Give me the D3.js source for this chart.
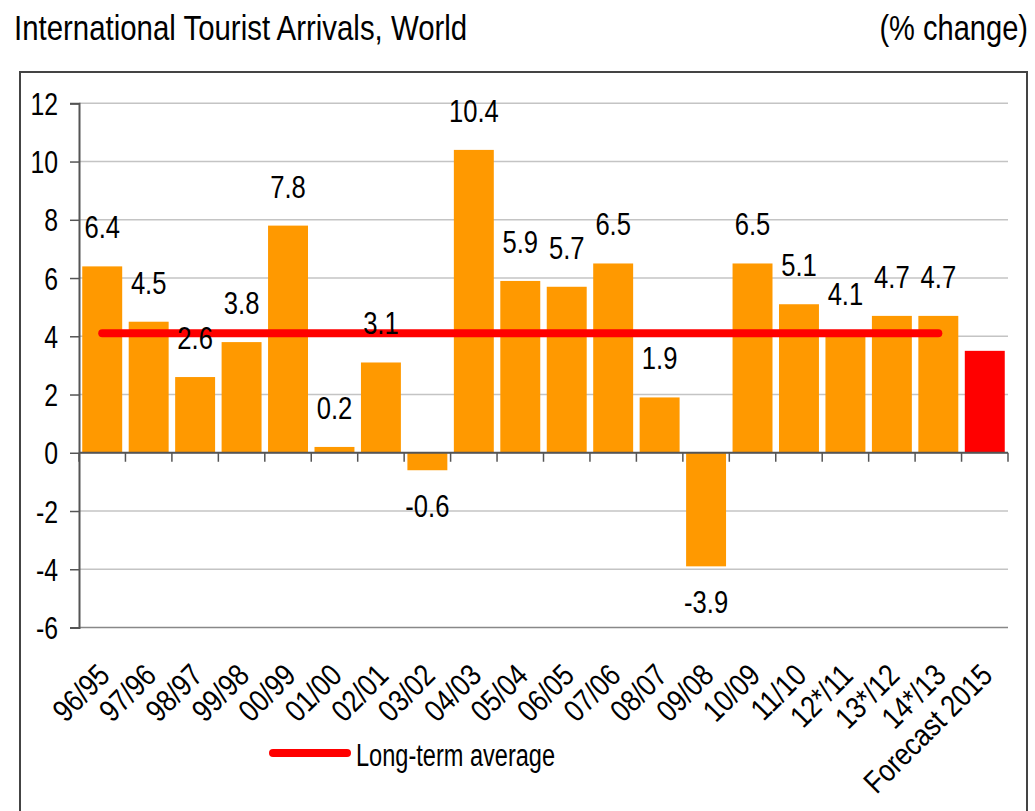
<!DOCTYPE html>
<html>
<head>
<meta charset="utf-8">
<script src="https://cdn.jsdelivr.net/npm/d3@7"></script>
<style>
  body { margin: 0; background: #fff; }
  text { font-family: "Liberation Sans Narrow", "Arial Narrow", "Liberation Sans", Arial, sans-serif; fill: #000; }
</style>
</head>
<body>
<script>
// values
var categories = ["96/95", "97/96", "98/97", "99/98", "00/99", "01/00", "02/01", "03/02", "04/03", "05/04",
  "06/05", "07/06", "08/07", "09/08", "10/09", "11/10", "12*/11", "13*/12", "14*/13", "Forecast 2015"];
var values = [6.4, 4.5, 2.6, 3.8, 7.8, 0.2, 3.1, -0.6, 10.4, 5.9, 5.7, 6.5, 1.9, -3.9, 6.5, 5.1, 4.1, 4.7, 4.7, 3.5];
var valueLabels = ["6.4", "4.5", "2.6", "3.8", "7.8", "0.2", "3.1", "-0.6", "10.4", "5.9",
  "5.7", "6.5", "1.9", "-3.9", "6.5", "5.1", "4.1", "4.7", "4.7", null];
var yTicks = [-6, -4, -2, 0, 2, 4, 6, 8, 10, 12];
var longTermAverage = 4.1;
var averageFrom = "96/95", averageTo = "14*/13";

var width = 1035, height = 811;

// the original uses a narrow font, squeeze the text horizontally
function squeeze(sel, k) {
  sel.each(function() {
    var w = this.getComputedTextLength();
    d3.select(this).attr("textLength", w * k).attr("lengthAdjust", "spacingAndGlyphs");
  });
}

var svg = d3.select("body").append("svg")
    .attr("width", width)
    .attr("height", height);

// outer frame
svg.append("rect")
    .attr("x", 20).attr("y", 72)
    .attr("width", 1007).attr("height", 760)
    .attr("fill", "none")
    .attr("stroke", "#444")
    .attr("stroke-width", 2);

svg.append("text")
    .attr("x", 14).attr("y", 40)
    .style("font-size", "35px")
    .text("International Tourist Arrivals, World")
    .call(squeeze, 0.84);

svg.append("text")
    .attr("x", 1028).attr("y", 40)
    .attr("text-anchor", "end")
    .style("font-size", "35px")
    .text("(% change)")
    .call(squeeze, 0.83);

var x = d3.scaleBand()
    .domain(categories)
    .range([79, 1008])
    .paddingInner(0.14)
    .paddingOuter(0.07);

var y = d3.scaleLinear()
    .domain([-6, 12])
    .range([627.5, 103.3]);

// gridlines
svg.append("g").selectAll("line")
    .data(yTicks)
    .enter().append("line")
    .attr("x1", 79).attr("x2", 1008)
    .attr("y1", function(d) { return y(d); })
    .attr("y2", function(d) { return y(d); })
    .attr("stroke", function(d) { return d === -6 ? "#888" : "#c4c4c4"; })
    .attr("stroke-width", 1.5);

// y axis
var yAxis = svg.append("g")
    .attr("transform", "translate(79,0)")
    .call(d3.axisLeft(y).tickValues(yTicks).tickSize(9).tickPadding(12)
      .tickFormat(function(d) { return String(d); }));
yAxis.select(".domain").attr("stroke", "#555").attr("stroke-width", 2);
yAxis.selectAll(".tick line").attr("stroke", "#555").attr("stroke-width", 1.5);
yAxis.selectAll(".tick text")
    .attr("fill", "#000")
    .style("font-size", "31px")
    .attr("dy", "0.36em")
    .call(squeeze, 0.8);
yAxis.attr("font-family", null);

// bars
var bars = d3.range(categories.length).map(function(i) {
  return { cat: categories[i], value: values[i], label: valueLabels[i] };
});

svg.append("g").selectAll("rect")
    .data(bars)
    .enter().append("rect")
    .attr("x", function(d) { return x(d.cat); })
    .attr("width", x.bandwidth())
    .attr("y", function(d) { return y(Math.max(0, d.value)); })
    .attr("height", function(d) { return Math.abs(y(d.value) - y(0)); })
    .attr("fill", function(d) { return d.cat === "Forecast 2015" ? "#ff0000" : "#ff9900"; });

// x axis at zero, ticks between categories
var boundaries = categories.map(function(c) { return x(c) - x.step() * x.paddingInner() / 2; });
boundaries[0] = 79;
boundaries.push(1008);

svg.append("line")
    .attr("x1", 79).attr("x2", 1008)
    .attr("y1", y(0)).attr("y2", y(0))
    .attr("stroke", "#555").attr("stroke-width", 2);

svg.append("g").selectAll("line")
    .data(boundaries)
    .enter().append("line")
    .attr("x1", function(d) { return d; })
    .attr("x2", function(d) { return d; })
    .attr("y1", y(0)).attr("y2", y(0) + 9)
    .attr("stroke", "#555").attr("stroke-width", 1.5);

// long-term average
svg.append("line")
    .attr("x1", x(averageFrom) + x.bandwidth() / 2)
    .attr("x2", x(averageTo) + x.bandwidth() / 2)
    .attr("y1", y(longTermAverage)).attr("y2", y(longTermAverage))
    .attr("stroke", "#ff0000")
    .attr("stroke-width", 8)
    .attr("stroke-linecap", "round");

// value labels
svg.append("g").selectAll("text")
    .data(bars.filter(function(d) { return d.label !== null; }))
    .enter().append("text")
    .attr("x", function(d) { return x(d.cat) + x.bandwidth() / 2; })
    .attr("y", function(d) { return d.value >= 0 ? y(d.value) - 28 : y(d.value) + 47; })
    .attr("text-anchor", "middle")
    .style("font-size", "32px")
    .text(function(d) { return d.label; })
    .call(squeeze, 0.8);

// category labels
svg.append("g").selectAll("text")
    .data(categories)
    .enter().append("text")
    .attr("text-anchor", "end")
    .attr("transform", function(d) {
      return "translate(" + (x(d) + x.bandwidth() / 2 - 6) + ",662) rotate(-45)";
    })
    .attr("dy", "0.7em")
    .style("font-size", "31px")
    .text(function(d) { return d; })
    .call(squeeze, 0.84);

// legend
svg.append("line")
    .attr("x1", 273).attr("x2", 347)
    .attr("y1", 753).attr("y2", 753)
    .attr("stroke", "#ff0000")
    .attr("stroke-width", 8)
    .attr("stroke-linecap", "round");

svg.append("text")
    .attr("x", 356).attr("y", 766)
    .style("font-size", "31px")
    .text("Long-term average")
    .call(squeeze, 0.76);
</script>
</body>
</html>
